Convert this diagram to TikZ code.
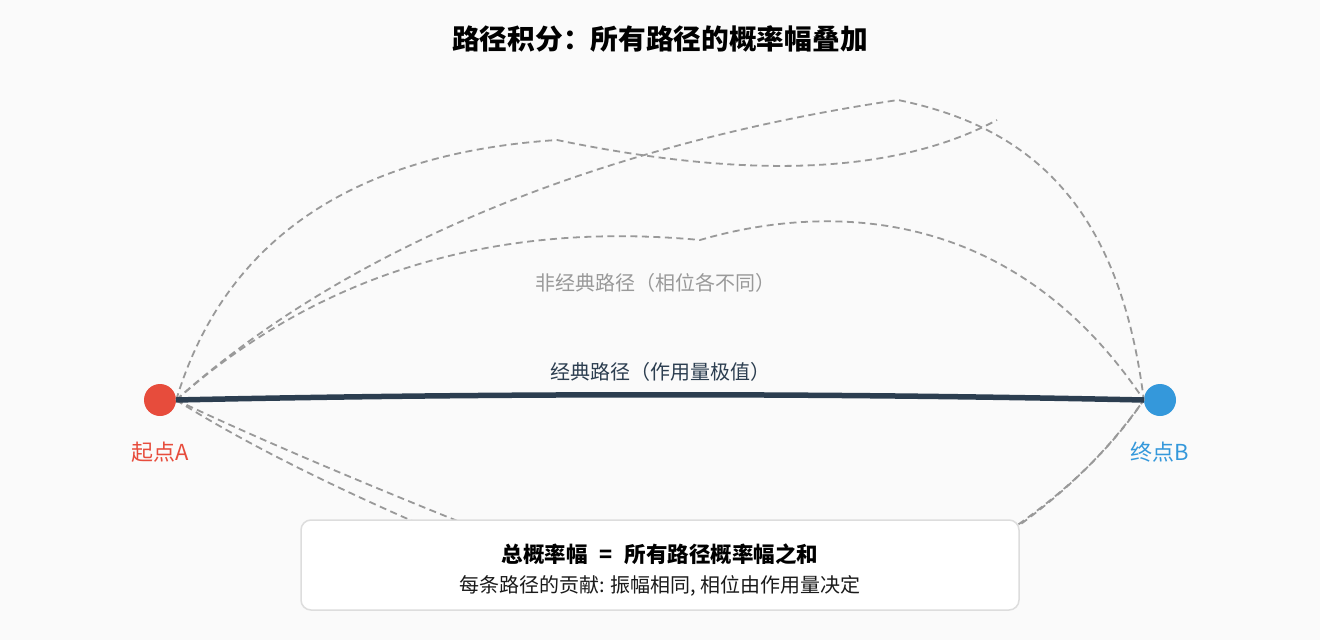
\documentclass[tikz,border=0pt]{standalone}
\usepackage{fontspec}
\setmainfont{Noto Sans CJK SC}
\definecolor{bgc}{HTML}{FAFAFA}
\definecolor{darkc}{HTML}{2C3E50}
\definecolor{cred}{HTML}{E74C3C}
\definecolor{cblue}{HTML}{3498DB}
\definecolor{pathgray}{HTML}{999999}
\definecolor{boxborder}{HTML}{DDDDDD}
\definecolor{txtc}{HTML}{1A1A1A}
\tikzset{
  endpoint/.style={circle,inner sep=0pt,minimum size=32pt},
  altpath/.style={draw=pathgray,line width=1.8pt,dash pattern=on 7pt off 4.5pt},
  classical/.style={draw=darkc,line width=5.5pt},
  lbl/.style={inner sep=0pt,anchor=center},
  sumbox/.style={draw=boxborder,line width=1.5pt,fill=white,rounded corners=10pt,minimum width=718pt,minimum height=90pt,inner sep=0pt}
}
\begin{document}
\begin{tikzpicture}[x=1pt,y=-1pt]
\fill[bgc] (0,0) rectangle (1320,640);
\useasboundingbox (0,0) rectangle (1320,640);

\node[lbl,font=\fontsize{27.7}{32}\selectfont\bfseries,text=black] (title) at (660,39) {路径积分：所有路径的概率幅叠加};

\node[endpoint,fill=cred] (A) at (160,400) {};
\node[endpoint,fill=cblue] (B) at (1160,400) {};
\coordinate (u1end) at (997,120);

% non-classical paths (upper)
\draw[altpath] (A.east) .. controls (226,235) and (359,153) .. (557,140)
   .. controls (750,180) and (896,174) .. (u1end);
\draw[altpath] (A.east) .. controls (320,270) and (560,150) .. (898,100)
   .. controls (1035,128) and (1120,210) .. (B.west);
\draw[altpath] (A.east) .. controls (320,273) and (495,221) .. (700,240)
   .. controls (820,205) and (1010,200) .. (B.west);

% non-classical paths (lower, passing behind the box)
\draw[altpath] (A.east) .. controls (260,440) and (380,490) .. (480,530)
   .. controls (600,580) and (850,600) .. (980,550)
   .. controls (1060,500) and (1110,450) .. (B.west);
\draw[altpath] (A.east) .. controls (250,447) and (355,497) .. (445,535)
   .. controls (580,590) and (850,610) .. (975,555)
   .. controls (1055,505) and (1105,455) .. (B.west);

% classical path
\draw[classical] (A.east) .. controls (500,393) and (820,393) .. (B.west);

\node[lbl,font=\fontsize{20}{24}\selectfont,text=pathgray] (nonclass) at (655,283) {非经典路径（相位各不同）};
\node[lbl,font=\fontsize{20}{24}\selectfont,text=darkc] (class) at (660,372) {经典路径（作用量极值）};
\node[lbl,font=\fontsize{22}{26}\selectfont,text=cred] (labA) at (160,452) {起点A};
\node[lbl,font=\fontsize{22}{26}\selectfont,text=cblue] (labB) at (1160,452) {终点B};

\node[sumbox] (box) at (660,565) {};
\node[lbl,font=\fontsize{21.5}{25}\selectfont\bfseries,text=black] (boxtitle) at (660,554) {总概率幅\hspace{12pt}=\hspace{12pt}所有路径概率幅之和};
\node[lbl,font=\fontsize{20}{24}\selectfont,text=txtc] (boxtext) at (660,586) {每条路径的贡献: 振幅相同, 相位由作用量决定};
\end{tikzpicture}
\end{document}
